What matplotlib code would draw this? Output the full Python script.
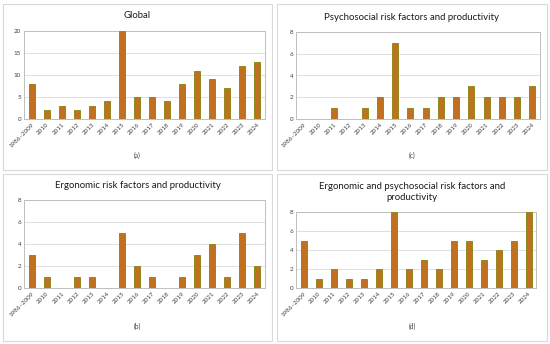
import numpy as np
import matplotlib
matplotlib.use('Agg')
import matplotlib.pyplot as plt
from matplotlib.patches import Rectangle

plt.rcParams['font.family'] = ['Lato', 'DejaVu Sans']

years = ['1986\u20132009', '2010', '2011', '2012', '2013', '2014', '2015', '2016',
         '2017', '2018', '2019', '2020', '2021', '2022', '2023', '2024']

global_counts = [8, 2, 3, 2, 3, 4, 20, 5, 5, 4, 8, 11, 9, 7, 12, 13]
psycho_counts = [0, 0, 1, 0, 1, 2, 7, 1, 1, 2, 2, 3, 2, 2, 2, 3]
ergo_counts = [3, 1, 0, 1, 1, 0, 5, 2, 1, 0, 1, 3, 4, 1, 5, 2]
both_counts = [5, 1, 2, 1, 1, 2, 8, 2, 3, 2, 5, 5, 3, 4, 5, 8]

W, H = 550, 344
fig = plt.figure(figsize=(W / 100, H / 100), dpi=100)


def px_rect(x0, y0, x1, y1):
    # pixel box (top-left origin) -> figure fraction [l, b, w, h]
    return [x0 / W, 1 - y1 / H, (x1 - x0) / W, (y1 - y0) / H]


def panel(box, plot, vals, ymax, step, title, title_y, label, label_y):
    l, b, w, h = px_rect(*box)
    fig.patches.append(Rectangle((l, b), w, h, transform=fig.transFigure,
                                 fill=False, edgecolor='#d9d9d9', lw=0.8))
    ax = fig.add_axes(px_rect(*plot))
    x = np.arange(len(years))
    ax.bar(x, vals, width=0.4, color='#c0701e', edgecolor='#8f8a1e', lw=0.7, zorder=3)
    ax.set_xlim(-0.5, len(years) - 0.5)
    ax.set_ylim(0, ymax)
    ax.set_yticks(np.arange(0, ymax + 0.1, step))
    ax.set_xticks(x)
    ax.set_xticklabels(years, rotation=45, ha='right', rotation_mode='anchor')
    ax.tick_params(labelsize=4.5, colors='#404040', length=0, pad=2)
    ax.grid(axis='y', color='#d9d9d9', lw=0.6, zorder=0)
    for s in ax.spines.values():
        s.set_color('#bfbfbf')
        s.set_linewidth(0.7)
    cx = (box[0] + box[2]) / 2
    fig.text(cx / W, 1 - title_y / H, title, ha='center', va='center',
             fontsize=6.9, color='#1a1a1a', linespacing=1.3)
    fig.text(cx / W, 1 - label_y / H, label, ha='center', va='center',
             fontsize=4.8, color='#404040')
    return ax


panel((3, 4, 272, 170), (24, 31, 265, 119), global_counts, 20, 5,
      'Global', 16, '(a)', 155)
panel((277, 4, 547, 170), (296, 32, 540, 119), psycho_counts, 8, 2,
      'Psychosocial risk factors and productivity', 17, '(c)', 155)
panel((3, 174, 272, 341), (24, 200, 265, 288), ergo_counts, 8, 2,
      'Ergonomic risk factors and productivity', 186, '(b)', 326)
panel((277, 174, 547, 341), (296, 212, 536, 288), both_counts, 8, 2,
      'Ergonomic and psychosocial risk factors and\nproductivity', 192, '(d)', 326)

fig.savefig('out.png', dpi=100)
